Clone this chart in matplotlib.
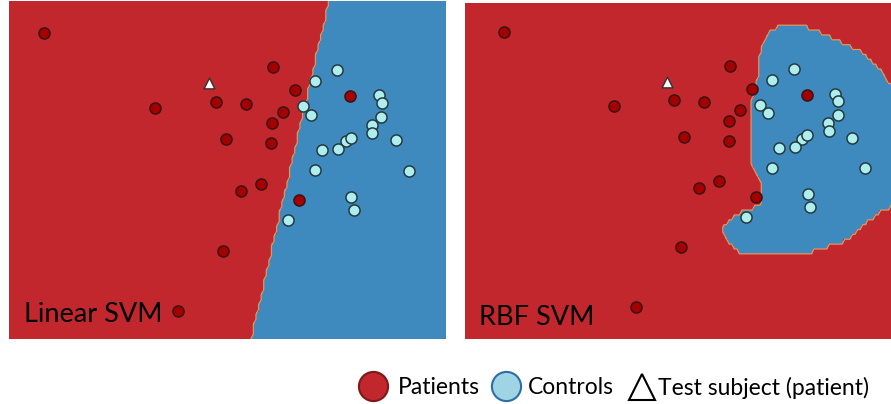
import matplotlib
matplotlib.use("Agg")
import matplotlib.pyplot as plt
import numpy as np
from matplotlib.colors import ListedColormap
from matplotlib.lines import Line2D
from matplotlib.path import Path

# subjects in a 2-D feature space (arbitrary units)
PATIENT_X = [0.81, 3.34, 6.03, 6.53, 4.73, 5.41, 6.26, 6.00, 4.96, 5.99,
             5.76, 5.30, 6.62, 7.79, 4.89, 3.85]
PATIENT_Y = [7.24, 5.48, 6.44, 5.89, 5.62, 5.57, 5.37, 5.12, 4.74, 4.63,
             3.68, 3.50, 3.29, 5.75, 2.09, 0.66]
CONTROL_X = [7.50, 6.98, 6.72, 6.89, 8.44, 8.52, 8.50, 8.28, 8.30, 7.69,
             7.80, 7.52, 7.14, 8.83, 6.99, 9.13, 7.82, 7.87, 6.38]
CONTROL_Y = [6.37, 6.11, 5.51, 5.30, 5.77, 5.59, 5.26, 5.07, 4.88, 4.69,
             4.77, 4.49, 4.47, 4.71, 3.99, 3.98, 3.37, 3.06, 2.81]
TEST_X = [4.57]
TEST_Y = [6.05]

# decision boundaries
LINEAR_EDGE_X = [7.31, 5.53]
LINEAR_EDGE_Y = [8.02, 0.0]
RBF_EDGE_X = [6.79, 6.86, 7.02, 7.25, 7.75, 7.86, 8.17, 8.48, 8.79, 9.09,
              9.36, 9.55, 9.73, 10.3, 10.3, 9.73, 9.55, 9.25, 8.86, 8.55,
              8.09, 7.90, 7.09, 7.02, 6.36, 6.02, 5.90, 5.86, 6.17, 6.40,
              6.63, 6.77, 6.77, 6.71, 6.59, 6.50, 6.50, 6.54, 6.59, 6.67, 6.71]
RBF_EDGE_Y = [6.98, 7.18, 7.32, 7.42, 7.40, 7.32, 7.22, 7.06, 6.90, 6.74,
              6.50, 6.26, 5.98, 5.70, 3.20, 3.06, 2.98, 2.74, 2.38, 2.18,
              2.04, 1.98, 1.96, 1.88, 1.88, 2.18, 2.34, 2.58, 2.86, 2.98,
              3.06, 3.22, 3.54, 3.70, 3.94, 4.06, 5.62, 5.70, 5.90, 6.18, 6.74]

LEGEND_LABELS = ["Patients", "Controls", "Test subject (patient)"]

RED = "#c1272d"
BLUE = "#3e89be"
EDGE = "#e2945a"
PATIENT_FILL = "#a50000"
CONTROL_FILL = "#aeeeee"
FONT = "Lato"


def linear_mask(xs, ys):
    gx, gy = np.meshgrid(xs, ys)
    (x0, x1), (y0, y1) = LINEAR_EDGE_X, LINEAR_EDGE_Y
    side = (x1 - x0) * (gy - y0) - (y1 - y0) * (gx - x0)
    return (side > 0).astype(float)


def rbf_mask(xs, ys):
    gx, gy = np.meshgrid(xs, ys)
    path = Path(np.column_stack([RBF_EDGE_X, RBF_EDGE_Y]))
    inside = path.contains_points(np.column_stack([gx.ravel(), gy.ravel()]))
    return inside.reshape(gx.shape).astype(float)


def draw_panel(ax, xlim, ylim, mask_fn, label, label_y):
    xs = np.linspace(xlim[0], xlim[1], 170)
    ys = np.linspace(ylim[0], ylim[1], 70)
    mask = mask_fn(xs, ys)
    ax.pcolormesh(xs, ys, mask, cmap=ListedColormap([RED, BLUE]),
                  vmin=0, vmax=1, shading="nearest")
    ax.contour(xs, ys, mask, levels=[0.5], colors=EDGE, linewidths=0.9)
    ax.scatter(PATIENT_X, PATIENT_Y, s=64, c=PATIENT_FILL,
               edgecolors="#3a1414", linewidths=1.1, zorder=3)
    ax.scatter(CONTROL_X, CONTROL_Y, s=64, c=CONTROL_FILL,
               edgecolors="#26393d", linewidths=1.1, zorder=3)
    ax.scatter(TEST_X, TEST_Y, s=60, marker="^", c="white",
               edgecolors="#333333", linewidths=1.0, zorder=3)
    ax.set_xlim(*xlim)
    ax.set_ylim(*ylim)
    ax.set_xticks([])
    ax.set_yticks([])
    for sp in ax.spines.values():
        sp.set_visible(False)
    ax.text(0.034, label_y, label, transform=ax.transAxes, fontsize=19.5,
            family=FONT, va="baseline", ha="left", color="black", zorder=4)


fig = plt.figure(figsize=(8.91, 4.04), dpi=100)

ax_lin = fig.add_axes([9 / 891, 65 / 404, 437 / 891, 338.3 / 404])
draw_panel(ax_lin, (0, 9.98), (0, 8.01), linear_mask, "Linear SVM", 0.05)

ax_rbf = fig.add_axes([464.7 / 891, 65 / 404, 434 / 891, 335.7 / 404])
draw_panel(ax_rbf, (-0.10, 9.91), (-0.11, 7.94), rbf_mask, "RBF SVM", 0.042)

handles = [
    Line2D([], [], ls="", marker="o", ms=21, mfc=RED, mec="#7a1a1a", mew=1.5),
    Line2D([], [], ls="", marker="o", ms=21, mfc="#9fd4e4", mec="#2c6ea5", mew=1.5),
    Line2D([], [], ls="", marker="^", ms=19, mfc="white", mec="black", mew=1.5),
]
# one legend entry per item so each sits where it does in the figure
for handle, text, x0, pad in zip(handles, LEGEND_LABELS, (362, 495, 631),
                                 (0.55, 0.45, 0.2)):
    fig.legend([handle], [text], loc="center left",
               bbox_to_anchor=(x0 / 891, 1 - 388 / 404),
               frameon=False, prop={"family": FONT, "size": 16.5},
               handlelength=1.0, handletextpad=pad,
               borderaxespad=0, borderpad=0)

fig.savefig("out.png", dpi=100)
